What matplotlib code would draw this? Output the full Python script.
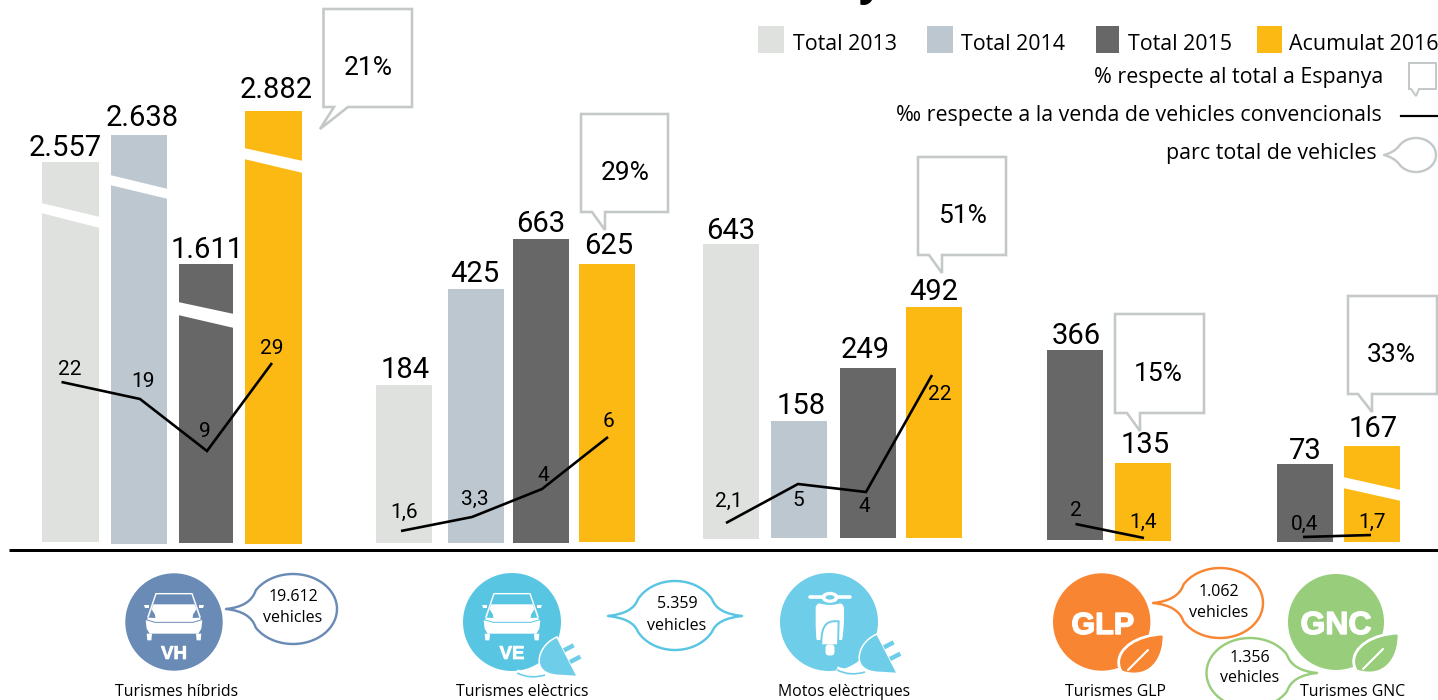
import numpy as np
import matplotlib
matplotlib.use("Agg")
import matplotlib.pyplot as plt
import matplotlib.patheffects as pe
from matplotlib.path import Path
from matplotlib.patches import PathPatch, Circle, Ellipse, Polygon, Rectangle, FancyBboxPatch

# ---------------- data ----------------
vehicle_types = ["Turismes híbrids", "Turismes elèctrics", "Motos elèctriques", "Turismes GLP", "Turismes GNC"]
series_names = ["Total 2013", "Total 2014", "Total 2015", "Acumulat 2016"]
total_2013 = ["2.557", "184", "643", None, None]
total_2014 = ["2.638", "425", "158", None, None]
total_2015 = ["1.611", "663", "249", "366", "73"]
acumulat_2016 = ["2.882", "625", "492", "135", "167"]
# drawn bar heights (the original chart is not to a single scale and has cut bars)
drawn_2013 = [380, 158, 295, None, None]
drawn_2014 = [409, 254, 117, None, None]
drawn_2015 = [279, 304, 170, 190, 78]
drawn_2016 = [433, 278, 231, 78, 96]
# per-mille series: labels and drawn levels above the axis line
permille_labels = [["22", "19", "9", "29"], ["1,6", "3,3", "4", "6"], ["2,1", "5", "4", "22"], ["2", "1,4"], ["0,4", "1,7"]]
permille_levels = [[168, 151, 99, 187], [19, 33, 61, 113], [27, 66, 58, 175], [26, 12], [13, 15]]
share_spain = ["21%", "29%", "51%", "15%", "33%"]
parc_total = ["19.612", "5.359", "1.062", "1.356"]

# ---------------- layout & style ----------------
C_2013, C_2014, C_2015, C_2016 = "#dfe1df", "#bcc7d0", "#666766", "#fdb913"
C_BOX = "#c4c8c8"
C_VH, C_VE, C_MOTO, C_GLP, C_GNC = "#6a8bb5", "#58c6e3", "#6ecde8", "#f88532", "#98cd7c"
AXIS_Y = 550
LW = 0.72

fig = plt.figure(figsize=(14.38, 7.0), dpi=100, facecolor="white")
ax = fig.add_axes([0, 0, 1, 1])
ax.set_xlim(0, 1438)
ax.set_ylim(700, 0)
ax.axis("off")


def T(x, y, s, font="Open Sans", size=11.5, ha="center", color="black", weight="normal", z=8, heavy=0):
    t = ax.text(x, y, s, family=font, fontsize=size, ha=ha, va="baseline", color=color, fontweight=weight, zorder=z)
    if heavy:
        t.set_path_effects([pe.withStroke(linewidth=heavy, foreground=color)])


# bars: left edge, right edge, baseline per group
bar_layout = {
    0: [(42, 99, 542), (111, 167, 544), (179, 233, 543), (245, 302, 544)],
    1: [(376, 432, 543), (448, 504, 543), (513, 569, 543), (579, 635, 542)],
    2: [(703, 759, 539), (771, 827, 538), (840, 896, 538), (906, 962, 538)],
    3: [None, None, (1047, 1103, 540), (1115, 1171, 541)],
    4: [None, None, (1277, 1333, 542), (1344, 1400, 542)],
}
series_vals = [total_2013, total_2014, total_2015, acumulat_2016]
series_draw = [drawn_2013, drawn_2014, drawn_2015, drawn_2016]
series_cols = [C_2013, C_2014, C_2015, C_2016]
label_pos = {
    0: [(65, 156), (142, 125.5), (207, 258), (276, 98.5)],
    1: [(405, 378.5), (475, 282.5), (541, 231.5), (608.5, 254.5)],
    2: [(730.5, 239), (801, 414), (865.5, 358), (933.5, 299.5)],
    3: [None, None, (1076.5, 344), (1145.5, 453)],
    4: [None, None, (1305.5, 459), (1373.5, 437)],
}
for g in range(5):
    for s in range(4):
        h = series_draw[s][g]
        if h is None:
            continue
        l, r, base = bar_layout[g][s]
        ax.bar(l, -h, width=r - l, bottom=base, align="edge", color=series_cols[s], linewidth=0, zorder=2)
        lx, ly = label_pos[g][s]
        T(lx, ly, series_vals[s][g], font="Roboto", size=21)

# white slanted cuts through the tall bars
cuts = [
    (42, 99, 203, 217, 213, 228), (111, 167, 175, 189, 185, 199),
    (179, 233, 302, 314, 315, 328), (245, 302, 148, 161, 159, 173),
    (1344, 1400, 477, 490, 488, 501),
]
for l, r, ul, ur, ll, lr in cuts:
    ax.add_patch(Polygon([(l - 1, ul), (r + 1, ur), (r + 1, lr), (l - 1, ll)], fc="white", ec="none", zorder=3))

# per-mille lines
line_x = [[61.5, 140, 207, 272], [401, 472, 542, 608], [726, 798, 866, 932], [1075.5, 1144], [1303, 1371]]
line_lab = [[(70, 375), (143, 387), (205, 437), (271.5, 354)],
            [(404, 518), (474.5, 505), (543, 481), (609, 427)],
            [(729, 507), (798, 505.5), (864, 512.5), (940, 400.5)],
            [(1076, 516.5), (1143, 528)], [(1304.5, 530), (1372, 528)]]
for xs, lv, labs, pos in zip(line_x, permille_levels, permille_labels, line_lab):
    ax.plot(xs, [AXIS_Y - v for v in lv], color="black", lw=2.2 * LW + 0.3, solid_capstyle="butt", solid_joinstyle="miter", zorder=4)
    for (px, py), t in zip(pos, labs):
        T(px, py, t, font="Roboto", size=15)

# axis line
ax.plot([9, 1438], [AXIS_Y, AXIS_Y], color="black", lw=3 * LW, solid_capstyle="butt", zorder=5)


# percentage callouts
def callout(x0, x1, y0, y1, tail, txt=None, tp=None, lw=2.6):
    pts = [(x0, y0), (x1, y0), (x1, y1), tail[2], tail[1], tail[0], (x0, y1)]
    ax.add_patch(Polygon(pts, closed=True, fc="white", ec=C_BOX, lw=lw * LW, joinstyle="miter", zorder=6))
    if txt:
        T(tp[0], tp[1], txt, font="Roboto", size=19)


callout(323.5, 412, 9, 107, [(334, 107), (320, 129), (348, 107)], share_spain[0], (368, 75))
callout(581, 668, 114, 212, [(592, 212), (605, 230), (605, 212)], share_spain[1], (625, 180))
callout(918, 1006, 157, 255, [(929, 255), (942, 273), (942, 255)], share_spain[2], (962, 223))
callout(1115, 1204, 314, 413, [(1127, 413), (1140, 431), (1140, 413)], share_spain[3], (1158.5, 381))
callout(1348, 1437, 296, 394, [(1358, 394), (1372, 412), (1372, 394)], share_spain[4], (1391, 362))

# legend
swatches = [(758, 784), (927, 953), (1096, 1119), (1257, 1282)]
for (l, r), c in zip(swatches, series_cols):
    ax.add_patch(Rectangle((l, 26), r - l, 27, fc=c, ec="none", zorder=2))
for x, name in zip([793, 961, 1128, 1289], series_names):
    T(x, 50, name, size=15.4, ha="left")
T(1383, 83, "% respecte al total a Espanya", size=15.4, ha="right")
T(1382, 121, "‰ respecte a la venda de vehicles convencionals", size=15.4, ha="right")
T(1377, 159, "parc total de vehicles", size=15.4, ha="right")
callout(1409, 1436, 63, 89, [(1411, 89), (1416, 96), (1419, 89)], lw=2)
ax.plot([1401, 1438], [115.7, 115.7], color="black", lw=2.2 * LW, zorder=4)

# cut-off title descender at the top
T(870, -5, "y", size=30, weight="bold")


# speech bubbles
def bubble(cx, cy, rx, ry, tips, color, lw=2.4, a0=32):
    a0r = np.radians(a0)
    verts, codes = [], []

    def arc(a, b):
        t = np.radians(np.linspace(a, b, 40))
        return [(cx + rx * np.cos(v), cy - ry * np.sin(v)) for v in t]

    def tail(tip, d):
        e1 = (cx + d * rx * np.cos(a0r), cy - ry * np.sin(a0r))
        e2 = (cx + d * rx * np.cos(a0r), cy + ry * np.sin(a0r))
        c1 = (e1[0] + d * 5, tip[1] - 2.5)
        c2 = (e2[0] + d * 5, tip[1] + 2.5)
        return e1, c1, e2, c2

    left = [t for t in tips if t[0] < cx]
    right = [t for t in tips if t[0] > cx]
    start = True

    def add_line(pts):
        nonlocal start
        for p in pts:
            verts.append(p)
            codes.append(Path.MOVETO if start else Path.LINETO)
            start = False

    a_start = a0 if right else 0
    a_end_top = 180 - a0 if left else 180
    add_line(arc(a_start, a_end_top))
    if left:
        e1, c1, e2, c2 = tail(left[0], -1)
        verts += [c1, left[0], c2, e2]
        codes += [Path.CURVE3] * 4
    a_b0 = 180 + a0 if left else 180
    a_b1 = 360 - a0 if right else 360
    add_line(arc(a_b0, a_b1))
    if right:
        e1, c1, e2, c2 = tail(right[0], 1)
        verts += [c2, right[0], c1, e1]
        codes += [Path.CURVE3] * 4
    ax.add_patch(PathPatch(Path(verts, codes), fc="white", ec=color, lw=lw * LW, zorder=6, joinstyle="round", clip_on=True))


bubble(1416, 155, 20, 17, [(1384, 155)], C_BOX, lw=2.4, a0=30)
bubble(293, 609, 44, 35, [(226, 609)], C_VH)
bubble(675, 615.5, 42, 34.5, [(608, 616), (742, 616)], C_VE, a0=28)
bubble(1220, 603, 43, 35, [(1153, 603)], C_GLP)
bubble(1250, 673, 43.5, 35, [(1317, 673)], C_GNC)
for x, y1, y2, v in [(293, 601, 622, parc_total[0]), (677, 608, 630, parc_total[1]),
                     (1219, 596, 617, parc_total[2]), (1250, 662, 682, parc_total[3])]:
    T(x, y1, v, size=11.5)
    T(x, y2, "vehicles", size=11.5)


# icons
def car(cx, cy, col):
    f = lambda pts: [(cx + (x - 147) / 3, cy + (y - 150) / 3) for x, y in pts]
    m = lambda pts: [(294 - x, y) for x, y in pts]
    ax.add_patch(Polygon(f([(85, 97), (209, 97), (226, 140), (232, 146), (229, 170), (220, 185), (74, 185),
                            (65, 170), (62, 146), (68, 140)]), fc="white", ec="none", zorder=7))
    ax.add_patch(Polygon(f([(68, 137), (93, 65), (201, 65), (226, 137)]), closed=False, fc="none", ec="white", lw=1.0, zorder=7))
    for shape in [[(71, 137), (80, 112), (90, 128), (91, 138)]]:
        ax.add_patch(Polygon(f(shape), fc=col, ec="none", zorder=7.5))
        ax.add_patch(Polygon(f(m(shape)), fc=col, ec="none", zorder=7.5))
    xs = f([(63, 143), (90, 151), (204, 151), (231, 143)])
    ax.plot(*zip(*xs), color=col, lw=0.7, zorder=7.5)
    for shape in [[(57, 98), (71, 98), (71, 109), (60, 109)], [(65, 185), (81, 185), (79, 205), (67, 205)]]:
        ax.add_patch(Polygon(f(shape), fc="white", ec="none", zorder=7))
        ax.add_patch(Polygon(f(m(shape)), fc="white", ec="none", zorder=7))


def plug(cx, cy, col):
    f = lambda pts: [(cx + (x - 147) / 3, cy + (y - 156) / 3) for x, y in pts]
    cord = Path(f([(170, 298), (210, 316), (252, 303)]), [Path.MOVETO, Path.CURVE3, Path.CURVE3])
    ax.add_patch(PathPatch(cord, fc="none", ec="white", lw=4.5, zorder=7))
    cord2 = Path(f([(172, 300), (210, 320), (255, 306)]), [Path.MOVETO, Path.CURVE3, Path.CURVE3])
    ax.add_patch(PathPatch(cord2, fc="none", ec=col, lw=1.2, zorder=7.2))
    body = Path(f([(290, 195), (252, 212), (238, 245), (240, 268), (243, 292), (264, 304), (300, 305),
                   (348, 308), (290, 195)]),
                [Path.MOVETO, Path.CURVE4, Path.CURVE4, Path.CURVE4, Path.CURVE4, Path.CURVE4, Path.CURVE4,
                 Path.LINETO, Path.CLOSEPOLY])
    ax.add_patch(PathPatch(body, fc=col, ec="white", lw=2.2, zorder=7.4, joinstyle="miter"))
    ax.add_patch(PathPatch(body, fc=col, ec="none", zorder=7.5))
    for a, b in [[(312, 232), (341, 217)], [(330, 267), (361, 251)]]:
        ax.plot(*zip(*f([a, b])), color=col, lw=3.2, solid_capstyle="butt", zorder=7.5)


def scooter(cx, cy, col):
    f = lambda pts: [(cx + (x - 147) / 3, cy + (y - 156) / 3) for x, y in pts]
    ax.plot(*zip(*f([(90, 82), (210, 82)])), color="white", lw=2.6, solid_capstyle="round", zorder=7)
    hx, hy = f([(150, 82)])[0]
    ax.add_patch(Ellipse((hx, hy), 17, 11, fc="white", ec="none", zorder=7.1))
    ax.add_patch(Ellipse((hx, hy), 9, 4.5, fc=col, ec="none", zorder=7.2))
    shield = Path(f([(118, 100), (150, 110), (180, 100), (191, 102), (192, 115), (192, 150), (190, 198), (186, 210),
                     (110, 210), (107, 195), (107, 150), (107, 112), (108, 102), (118, 100), (118, 100)]),
                  [Path.MOVETO, Path.CURVE3, Path.CURVE3, Path.CURVE3, Path.CURVE3, Path.LINETO, Path.CURVE3, Path.CURVE3,
                   Path.LINETO, Path.CURVE3, Path.CURVE3, Path.LINETO, Path.CURVE3, Path.CURVE3, Path.CLOSEPOLY])
    ax.add_patch(PathPatch(shield, fc="white", ec="none", zorder=7))
    guard = Path(f([(124, 226), (122, 154), (149, 152), (176, 154), (174, 226), (124, 226)]),
                 [Path.MOVETO, Path.CURVE4, Path.CURVE4, Path.CURVE4, Path.LINETO, Path.CLOSEPOLY])
    ax.add_patch(PathPatch(guard, fc="white", ec=col, lw=1.4, zorder=7.3))
    gx, gy = f([(150, 240)])[0]
    ax.add_patch(FancyBboxPatch((gx - 2.5, gy - 3.5), 5, 7, boxstyle="round,pad=2,rounding_size=3.5", fc="white", ec="none", zorder=7.3))


def leaf(tipx, tipy, col):
    f = lambda pts: [(tipx + (x - 193) / 3, tipy + (y - 42) / 3) for x, y in pts]
    p = Path(f([(193, 42), (110, 45), (55, 85), (57, 130), (58, 145), (65, 155), (70, 157),
                (150, 180), (195, 120), (193, 42)]),
             [Path.MOVETO, Path.CURVE4, Path.CURVE4, Path.CURVE4, Path.CURVE3, Path.CURVE3, Path.LINETO,
              Path.CURVE4, Path.CURVE4, Path.CURVE4])
    ax.add_patch(PathPatch(p, fc=col, ec="white", lw=2.0, zorder=7.2))
    ax.plot(*zip(*f([(145, 90), (85, 150)])), color="white", lw=1.5, solid_capstyle="round", zorder=7.4)


BOLD = "Liberation Sans"
ax.add_patch(Circle((174, 622), 48.7, fc=C_VH, ec="none", zorder=6))
car(174, 622, C_VH)
T(174, 659, "VH", font=BOLD, size=13.5, color="white", weight="bold", heavy=0.5)

ax.add_patch(Circle((512, 622), 49, fc=C_VE, ec="none", zorder=6))
car(512, 622, C_VE)
T(512, 659, "VE", font=BOLD, size=13.5, color="white", weight="bold", heavy=0.5)
plug(509, 625, C_MOTO)

ax.add_patch(Circle((829, 622), 49, fc=C_MOTO, ec="none", zorder=6))
scooter(829, 622, C_MOTO)
plug(829, 622, C_MOTO)

ax.add_patch(Circle((1101.7, 622), 48.7, fc=C_GLP, ec="none", zorder=6))
T(1102.7, 634, "GLP", font=BOLD, size=22, color="white", weight="bold", heavy=1.0)
leaf(1164, 634, C_GLP)

ax.add_patch(Circle((1336, 622), 48, fc=C_GNC, ec="none", zorder=6))
T(1336, 634, "GNC", font=BOLD, size=23, color="white", weight="bold", heavy=1.0)
leaf(1399, 633, C_GNC)

for x, y, name in zip([177, 522, 844, 1115.5, 1353], [695.5, 695.5, 695.5, 695.5, 695.5], vehicle_types):
    T(x, y, name, size=11.4, z=9)

fig.savefig("out.png", dpi=100, facecolor="white")
